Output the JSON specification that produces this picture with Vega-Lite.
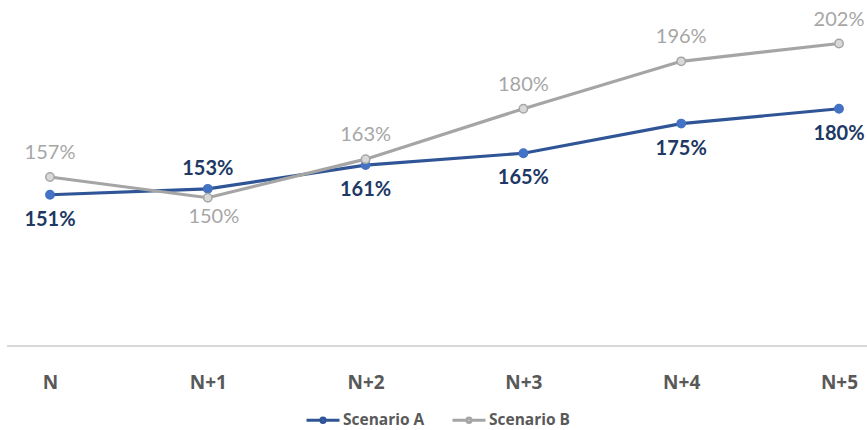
{
  "$schema": "https://vega.github.io/schema/vega-lite/v6.json",
  "autosize": {"type": "none"},
  "width": 860,
  "height": 344,
  "padding": {"left": 7, "right": 0, "top": 2, "bottom": 84},
  "background": "#ffffff",
  "config": {
    "view": {"stroke": null},
    "font": "Lato",
    "text": {"font": "Lato"}
  },
  "data": {
    "values": [
      {"year": "N", "series": "Scenario A", "value": 1.51},
      {"year": "N+1", "series": "Scenario A", "value": 1.53},
      {"year": "N+2", "series": "Scenario A", "value": 1.61},
      {"year": "N+3", "series": "Scenario A", "value": 1.65},
      {"year": "N+4", "series": "Scenario A", "value": 1.75},
      {"year": "N+5", "series": "Scenario A", "value": 1.80},
      {"year": "N", "series": "Scenario B", "value": 1.57},
      {"year": "N+1", "series": "Scenario B", "value": 1.50},
      {"year": "N+2", "series": "Scenario B", "value": 1.63},
      {"year": "N+3", "series": "Scenario B", "value": 1.80},
      {"year": "N+4", "series": "Scenario B", "value": 1.96},
      {"year": "N+5", "series": "Scenario B", "value": 2.02}
    ]
  },
  "encoding": {
    "x": {
      "field": "year",
      "type": "ordinal",
      "sort": ["N", "N+1", "N+2", "N+3", "N+4", "N+5"],
      "scale": {"type": "point", "range": [43, 832], "padding": 0},
      "axis": {
        "title": null,
        "domain": false,
        "ticks": false,
        "grid": false,
        "labelAngle": 0,
        "labelFont": "Open Sans",
        "labelFontSize": 19,
        "labelFontWeight": "bold",
        "labelColor": "#595959",
        "labelPadding": 27
      }
    },
    "y": {
      "field": "value",
      "type": "quantitative",
      "scale": {"domain": [1.0, 2.16], "nice": false, "zero": false},
      "axis": null
    }
  },
  "layer": [
    {
      "mark": {"type": "rule", "color": "#d9d9d9", "strokeWidth": 1.5},
      "encoding": {"x": null, "y": {"datum": 1.0}}
    },
    {
      "mark": {"type": "line", "strokeWidth": 3.2},
      "encoding": {
        "color": {
          "field": "series",
          "type": "nominal",
          "scale": {"domain": ["Scenario A", "Scenario B"], "range": ["#2f5597", "#a5a5a5"]},
          "legend": {
            "orient": "none",
            "legendX": 298,
            "legendY": 400,
            "direction": "horizontal",
            "title": null,
            "padding": 0,
            "labelFont": "Open Sans",
            "labelFontSize": 15.5,
            "labelFontWeight": "bold",
            "labelColor": "#595959",
            "labelLimit": 300,
            "symbolType": "M-1,0H-0.13M0.13,0H1M-0.13,0A0.13,0.13,0,1,1,0.13,0A0.13,0.13,0,1,1,-0.13,0",
            "symbolSize": 1089,
            "symbolStrokeWidth": 3,
            "columnPadding": 21,
            "labelOffset": 2,
            "encode": {
              "symbols": {
                "update": {
                  "fill": {"signal": "datum.value === 'Scenario A' ? '#4472c4' : '#d9d9d9'"}
                }
              }
            }
          }
        }
      }
    },
    {
      "mark": {"type": "point", "filled": true, "size": 70, "strokeWidth": 1.5, "opacity": 1},
      "encoding": {
        "fill": {
          "field": "series",
          "type": "nominal",
          "scale": {"domain": ["Scenario A", "Scenario B"], "range": ["#4472c4", "#d9d9d9"]},
          "legend": null
        },
        "stroke": {
          "field": "series",
          "type": "nominal",
          "scale": {"domain": ["Scenario A", "Scenario B"], "range": ["#4472c4", "#a5a5a5"]},
          "legend": null
        }
      }
    },
    {
      "transform": [{"filter": "datum.series === 'Scenario A' && datum.year !== 'N+1'"}],
      "mark": {"type": "text", "dy": 25, "fontSize": 20, "fontWeight": "bold", "color": "#203864", "baseline": "middle"},
      "encoding": {"text": {"field": "value", "type": "quantitative", "format": ".0%"}}
    },
    {
      "transform": [{"filter": "datum.series === 'Scenario A' && datum.year === 'N+1'"}],
      "mark": {"type": "text", "dy": -20, "fontSize": 20, "fontWeight": "bold", "color": "#203864", "baseline": "middle"},
      "encoding": {"text": {"field": "value", "type": "quantitative", "format": ".0%"}}
    },
    {
      "transform": [{"filter": "datum.series === 'Scenario B' && datum.year !== 'N+1'"}],
      "mark": {"type": "text", "dy": -24, "fontSize": 20, "fontWeight": "normal", "color": "#a6a6a6", "baseline": "middle"},
      "encoding": {"text": {"field": "value", "type": "quantitative", "format": ".0%"}}
    },
    {
      "transform": [{"filter": "datum.series === 'Scenario B' && datum.year === 'N+1'"}],
      "mark": {"type": "text", "dy": 19, "dx": 6, "fontSize": 20, "fontWeight": "normal", "color": "#a6a6a6", "baseline": "middle"},
      "encoding": {"text": {"field": "value", "type": "quantitative", "format": ".0%"}}
    }
  ]
}
